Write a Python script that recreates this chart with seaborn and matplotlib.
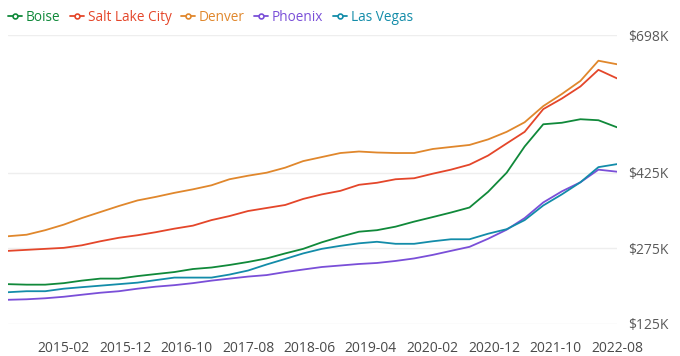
import matplotlib
matplotlib.use("Agg")
import matplotlib.pyplot as plt
from matplotlib.lines import Line2D
import seaborn as sns
import pandas as pd

# ---- data (quarterly readings, $K) ----
dates = pd.date_range("2014-05-01", "2022-08-01", freq="3MS")
boise = [204, 203, 203, 206, 211, 215, 215, 220, 224, 228, 234, 237, 242, 248, 255, 265, 274,
         287, 298, 308, 311, 318, 328, 337, 346, 356, 387, 425, 477, 521, 524, 531, 529, 515]
salt_lake_city = [270, 272, 274, 276, 281, 289, 296, 301, 307, 314, 320, 331, 339, 349, 355, 361, 373,
                  382, 389, 401, 405, 412, 414, 423, 431, 441, 459, 483, 506, 551, 572, 596, 629, 612]
denver = [299, 302, 311, 322, 335, 347, 359, 370, 377, 385, 392, 400, 412, 419, 425, 435, 448,
          456, 464, 467, 465, 464, 464, 472, 476, 480, 491, 506, 525, 557, 581, 607, 647, 640]
phoenix = [173, 174, 176, 179, 183, 187, 190, 195, 199, 202, 206, 211, 215, 219, 222, 228, 233,
           238, 241, 244, 246, 250, 255, 262, 270, 278, 294, 312, 335, 366, 388, 406, 431, 427]
las_vegas = [188, 190, 190, 195, 198, 201, 204, 207, 212, 217, 217, 217, 223, 231, 243, 254, 265,
             274, 280, 285, 288, 284, 284, 289, 293, 293, 304, 313, 331, 360, 382, 406, 436, 442]

cities = ["Boise", "Salt Lake City", "Denver", "Phoenix", "Las Vegas"]
colors = ["#10893a", "#e4462a", "#e0872c", "#7a4fd8", "#138ca9"]
y_ticks = [125, 275, 425, 698]
y_tick_labels = ["$125K", "$275K", "$425K", "$698K"]
x_tick_labels = ["2015-02", "2015-12", "2016-10", "2017-08", "2018-06",
                 "2019-04", "2020-02", "2020-12", "2021-10", "2022-08"]

series = [boise, salt_lake_city, denver, phoenix, las_vegas]
df = pd.concat([pd.DataFrame({"date": dates, "value": s, "city": c})
                for s, c in zip(series, cities)], ignore_index=True)

sns.set_style("white")
plt.rcParams["font.family"] = ["Open Sans", "DejaVu Sans"]

fig = plt.figure(figsize=(6.8, 3.56), dpi=100)
ax = fig.add_axes([8 / 680, (356 - 324) / 356, (617 - 8) / 680, (324 - 35) / 356])

sns.lineplot(data=df, x="date", y="value", hue="city", hue_order=cities,
             palette=colors, linewidth=1.3, legend=False, ax=ax)

ax.set_xlim(dates[0], dates[-1])
ax.set_ylim(y_ticks[0], y_ticks[-1])
ax.yaxis.tick_right()
ax.set_yticks(y_ticks)
ax.set_yticklabels(y_tick_labels)
xt = pd.to_datetime([d + "-01" for d in x_tick_labels])
ax.set_xticks(xt)
ax.set_xticklabels(x_tick_labels)
ax.tick_params(axis="y", length=0, pad=8, labelsize=10, labelcolor="#5a5a5a")
ax.tick_params(axis="x", length=0, pad=12, labelsize=10, labelcolor="#4a4a4a")
ax.set_xlabel("")
ax.set_ylabel("")
ax.grid(axis="y", color="#eeeeee", linewidth=1)
ax.grid(axis="x", visible=False)
for sp in ax.spines.values():
    sp.set_visible(False)

handles = [Line2D([0], [0], color=c, lw=1.3, marker="o", markersize=3.5,
                  markerfacecolor="white", markeredgecolor=c, markeredgewidth=1.2)
           for c in colors]
leg = fig.legend(handles, cities, loc="upper left", bbox_to_anchor=(0.0, 0.995), ncol=5,
                 frameon=False, fontsize=9.8, handlelength=1.0, handletextpad=0.3,
                 columnspacing=0.7, borderaxespad=0.2)
for t, c in zip(leg.get_texts(), colors):
    t.set_color(c)

fig.savefig("out.png", dpi=100)
